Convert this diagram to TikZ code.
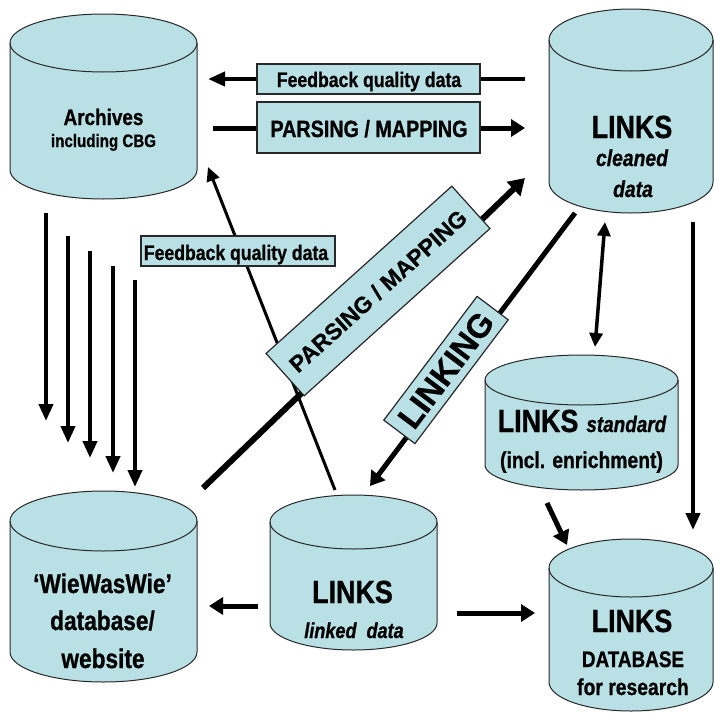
\documentclass[tikz,border=0pt]{standalone}
\usepackage{fontspec}
\setmainfont{Liberation Sans}[FakeStretch=0.84, BoldFeatures={FakeBold=0.8}, BoldItalicFeatures={FakeBold=0.8}]
\newfontfamily\widefont{Liberation Sans}[BoldFeatures={FakeBold=0.6}]
\usetikzlibrary{arrows.meta}
\definecolor{cylfill}{RGB}{185,224,228}
\definecolor{edgecol}{RGB}{40,40,40}
\newcommand\fsz[1]{\fontsize{#1}{#1}\selectfont}
\newcommand\dbcyl[6]{% name, cx, top-centre y, bottom-centre y, rx, ry
  \path[cylbody] (#2-#5,#3) -- (#2-#5,#4)
    arc[start angle=180,end angle=0,x radius=#5,y radius=#6]
    -- (#2+#5,#3)
    arc[start angle=0,end angle=-180,x radius=#5,y radius=#6] -- cycle;
  \draw[cylline] (#2-#5,#3) arc[start angle=180,end angle=0,x radius=#5,y radius=#6];
  \coordinate (#1) at (#2,{(#3+#4)/2});
}
\tikzset{
  cylbody/.style={fill=cylfill, draw=edgecol, line width=1pt},
  cylline/.style={draw=edgecol, line width=1pt},
  lbl/.style={inner sep=0pt, anchor=base},
  labelbox/.style={fill=cylfill, draw=edgecol, line width=1.2pt, inner sep=0pt},
  thinflow/.style={line width=3pt, -{Triangle[length=14pt,width=13pt]}},
  midflow/.style={line width=4pt, -{Triangle[length=17pt,width=14pt]}},
  thickflow/.style={line width=5pt, -{Triangle[length=14pt,width=17pt]}},
  heavyflow/.style={line width=6pt, -{Triangle[length=16pt,width=19pt]}},
  bothflow/.style={line width=3.5pt, {Triangle[length=14pt,width=13pt]}-{Triangle[length=14pt,width=13pt]}},
}
\begin{document}
\begin{tikzpicture}[x=1pt,y=-1pt]
\useasboundingbox (0,0) rectangle (714,715);

% ---------- cylinders ----------
\dbcyl{archives}{103.5}{43}{170}{93.5}{29}
\dbcyl{cleaned}{631}{40}{182}{82}{31}
\dbcyl{standard}{581.5}{380}{465}{96.5}{25}
\dbcyl{wiewas}{103.5}{521}{652}{93.5}{30}
\dbcyl{linked}{353.5}{522}{623}{83.5}{27}
\dbcyl{database}{631}{568}{682}{82}{29}

% ---------- connector end points ----------
\coordinate (fbStart) at (525,79);
\coordinate (fbEnd)   at (208,79);
\coordinate (pmStart) at (213,128);
\coordinate (pmEnd)   at (525,128);
\foreach \i/\x/\t/\b in {1/46/213/421, 2/68/236/443, 3/90/251/458, 4/113/266/473, 5/135/280/487}{
  \coordinate (vS\i) at (\x,\t);
  \coordinate (vE\i) at (\x,\b);
}
\coordinate (fb2Start) at (335,490);
\coordinate (fb2End)   at (208,167);
\coordinate (dpStart)  at (203,488);
\coordinate (dpEnd)    at (525,178);
\coordinate (lkStart)  at (575,213);
\coordinate (lkEnd)    at (370,486);
\coordinate (dbA)      at (605,222);
\coordinate (dbB)      at (595,347);
\coordinate (rvStart)  at (693,222);
\coordinate (rvEnd)    at (693,530);
\coordinate (sdStart)  at (547,503);
\coordinate (sdEnd)    at (567,545);
\coordinate (ldStart)  at (457,613);
\coordinate (ldEnd)    at (535,613);
\coordinate (lwStart)  at (258,606);
\coordinate (lwEnd)    at (209,606);

% ---------- connectors ----------
\draw[midflow] (fbStart) -- (fbEnd);
\draw[thickflow] (pmStart) -- (pmEnd);
\foreach \i in {1,...,5}{ \draw[midflow] (vS\i) -- (vE\i); }
\draw[thinflow] (fb2Start) -- (fb2End);
\draw[heavyflow] (dpStart) -- (dpEnd);
\draw[thickflow] (lkStart) -- (lkEnd);
\draw[bothflow] (dbA) -- (dbB);
\draw[midflow] (rvStart) -- (rvEnd);
\draw[thickflow] (sdStart) -- (sdEnd);
\draw[thickflow] (ldStart) -- (ldEnd);
\draw[thickflow] (lwStart) -- (lwEnd);

% ---------- label boxes ----------
\node[labelbox, minimum width=223pt, minimum height=30pt] (fbBox) at (368.5,79) {};
\node[lbl, font=\bfseries\fsz{21}] (fbText) at (369,87) {Feedback quality data};
\node[labelbox, minimum width=223pt, minimum height=51pt] (pmBox) at (368.5,127.5) {};
\node[lbl, font=\bfseries\fsz{23.5}] (pmText) at (369,137) {PARSING / MAPPING};
\node[labelbox, minimum width=194pt, minimum height=30pt] (fb2Box) at (238,251) {};
\node[lbl, font=\bfseries\fsz{21}] (fb2Text) at (236,260) {Feedback quality data};
\node[labelbox, minimum width=250pt, minimum height=57pt, rotate=42,
      font=\widefont\bfseries\fsz{23}] (dpBox) at (378,291) {PARSING / MAPPING};
\node[labelbox, minimum width=155pt, minimum height=39pt, rotate=53,
      font=\widefont\bfseries\fsz{33}] (lkBox) at (446,370) {LINKING};

% ---------- cylinder texts ----------
\node[lbl, font=\bfseries\fsz{22.5}] (arch1) at (103.5,125) {Archives};
\node[lbl, font=\bfseries\fsz{18}] (arch2) at (103.5,147) {including CBG};

\node[lbl, font=\bfseries\fsz{32}] (cl1) at (632,138) {LINKS};
\node[lbl, font=\bfseries\itshape\fsz{23}] (cl2) at (632,166) {cleaned};
\node[lbl, font=\bfseries\itshape\fsz{23}] (cl3) at (633,197) {data};

\node[lbl, font=\bfseries\fsz{32}] (st1) at (582,432) {LINKS\hspace{8pt}{\itshape\fsz{22.5}standard}};
\node[lbl, font=\bfseries\fsz{23}] (st2) at (581.5,468) {(incl. enrichment)};

\node[lbl, font=\bfseries\fsz{27}] (ww1) at (102.5,593) {‘WieWasWie’};
\node[lbl, font=\bfseries\fsz{27}] (ww2) at (102.5,630) {database/};
\node[lbl, font=\bfseries\fsz{27}] (ww3) at (103,668) {website};

\node[lbl, font=\bfseries\fsz{32}] (lk1) at (352.5,603) {LINKS};
\node[lbl, font=\bfseries\itshape\fsz{21.5}] (lk2) at (354,638) {linked~~data};

\node[lbl, font=\bfseries\fsz{32}] (db1) at (632,632) {LINKS};
\node[lbl, font=\bfseries\fsz{22.5}] (db2) at (633,667) {DATABASE};
\node[lbl, font=\bfseries\fsz{23}] (db3) at (633,695) {for research};
\end{tikzpicture}
\end{document}
